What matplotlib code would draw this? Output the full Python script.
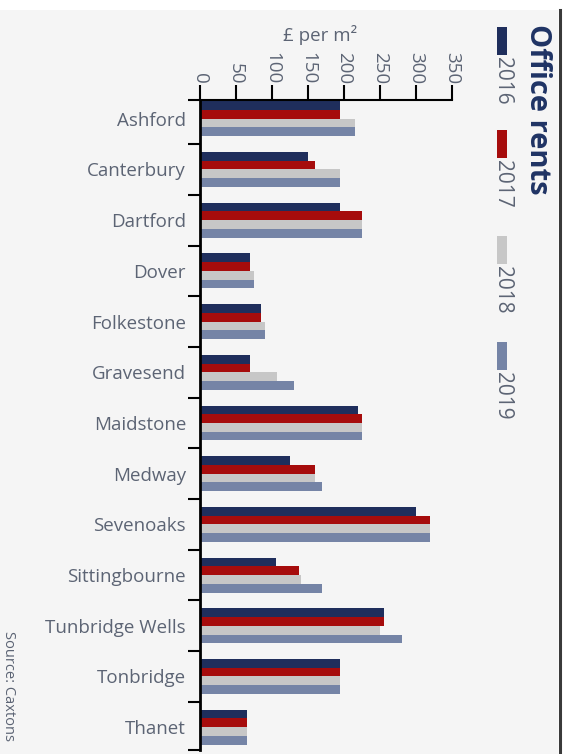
import matplotlib.pyplot as plt
from matplotlib.patches import Rectangle
from matplotlib.lines import Line2D

# --- Data: office rents, £ per m² ---
towns = ["Ashford", "Canterbury", "Dartford", "Dover", "Folkestone", "Gravesend",
         "Maidstone", "Medway", "Sevenoaks", "Sittingbourne", "Tunbridge Wells",
         "Tonbridge", "Thanet"]
years = ["2016", "2017", "2018", "2019"]
rent_2016 = [195, 150, 195, 70, 85, 70, 220, 125, 300, 105, 255, 195, 65]
rent_2017 = [195, 160, 225, 70, 85, 70, 225, 160, 320, 137, 255, 195, 65]
rent_2018 = [215, 195, 225, 75, 90, 107, 225, 160, 320, 140, 250, 195, 65]
rent_2019 = [215, 195, 225, 75, 90, 130, 225, 170, 320, 170, 280, 195, 65]
series = [rent_2016, rent_2017, rent_2018, rent_2019]
colors = ["#1f2e5c", "#a60c0c", "#c7c7c7", "#7584a6"]
x_ticks = [0, 50, 100, 150, 200, 250, 300, 350]

W, H = 572, 754
TEXT = "#5c6474"
plt.rcParams['font.family'] = ['Open Sans', 'DejaVu Sans']

fig = plt.figure(figsize=(W / 100, H / 100), dpi=100, facecolor="white")

# panel background and right-hand rule, kept behind the axes
fig.patches.append(Rectangle((0, 0), 558 / W, (H - 10) / H, transform=fig.transFigure,
                             facecolor="#f5f5f5", edgecolor="none", zorder=-2))
fig.lines.append(Line2D([559.5 / W, 559.5 / W], [0, (H - 10) / H], transform=fig.transFigure,
                        color="#3a3a3a", linewidth=2.2, zorder=-1))

y_top, y_bot = -0.37, 12.45
ax = fig.add_axes([200 / W, (H - 750) / H, 252 / W, 650 / H])
ax.set_facecolor("none")

bar_h = 0.172
offsets = [-1.5 * bar_h, -0.5 * bar_h, 0.5 * bar_h, 1.5 * bar_h]
pos = list(range(len(towns)))
for vals, col, off, yr in zip(series, colors, offsets, years):
    ax.barh([p + off for p in pos], vals, height=bar_h, color=col, label=yr, zorder=2)

ax.set_xlim(0, 350)
ax.set_ylim(y_bot, y_top)

# x axis along the top with rotated labels
ax.xaxis.tick_top()
ax.set_xticks(x_ticks)
ax.set_xticklabels([str(v) for v in x_ticks], rotation=-90, fontsize=13.5, color=TEXT)
ax.tick_params(axis="x", direction="out", length=11, width=1.5, pad=0.5, colors="black",
               labelcolor=TEXT)

# y ticks mark the group boundaries, labels sit on the group centres
ax.set_yticks([y_top] + [i + 0.5 for i in range(len(towns) - 1)] + [y_bot])
ax.set_yticklabels([])
ax.set_yticks(pos, minor=True)
ax.set_yticklabels(towns, minor=True, fontsize=13.5, color=TEXT)
ax.tick_params(axis="y", which="major", direction="out", length=9, width=1.5)
ax.tick_params(axis="y", which="minor", length=0, pad=10)

for side in ["right", "bottom"]:
    ax.spines[side].set_visible(False)
ax.spines["top"].set_linewidth(1.5)
ax.spines["left"].set_linewidth(2)

fig.text(320 / W, 1 - 35 / H, "£ per m²", ha="center", va="center", fontsize=13.5, color=TEXT)

# legend column on the right, written sideways
fig.text(537 / W, 1 - 24 / H, "Office rents", rotation=-90, ha="center", va="top",
         fontsize=21, fontweight="bold", color="#1f3364")
marker_tops = [27, 130, 236, 342]
for yr, col, top in zip(years, colors, marker_tops):
    fig.patches.append(Rectangle((497 / W, 1 - (top + 28) / H), 10 / W, 28 / H,
                                 transform=fig.transFigure, facecolor=col, edgecolor="none"))
    fig.text(502 / W, 1 - (top + 30) / H, yr, rotation=-90, ha="center", va="top",
             fontsize=15, color=TEXT)

fig.text(8 / W, 1 - 631 / H, "Source: Caxtons", rotation=-90, ha="center", va="top",
         fontsize=10.5, color=TEXT)

fig.savefig("out.png", dpi=100, facecolor=fig.get_facecolor())
